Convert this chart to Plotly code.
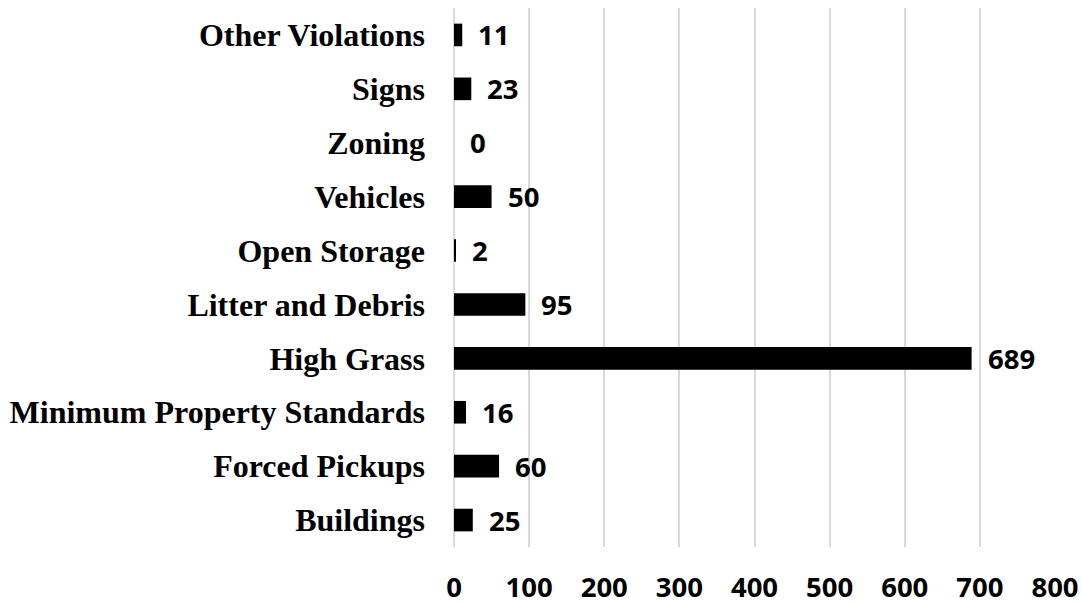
import plotly.graph_objects as go

categories = ["Buildings", "Forced Pickups", "Minimum Property Standards", "High Grass",
              "Litter and Debris", "Open Storage", "Vehicles", "Zoning", "Signs", "Other Violations"]
values = [25, 60, 16, 689, 95, 2, 50, 0, 23, 11]
x_ticks = [0, 100, 200, 300, 400, 500, 600, 700, 800]

fig = go.Figure()
fig.add_trace(go.Bar(
    y=categories, x=values, orientation="h",
    marker=dict(color="black", line=dict(width=0)),
    width=0.42, hoverinfo="x+y",
))

for c, v in zip(categories, values):
    fig.add_annotation(x=v, y=c, text=str(v), showarrow=False, xanchor="left",
                       xshift=14, font=dict(family="Open Sans", size=27.5, color="black",
                                            weight="bold"))

fig.update_layout(
    width=1082, height=603,
    margin=dict(l=454, r=27, t=8, b=56),
    paper_bgcolor="white", plot_bgcolor="white",
    showlegend=False,
    bargap=0.58,
)
fig.update_xaxes(
    range=[0, 800], tickvals=x_ticks, ticktext=[str(t) for t in x_ticks],
    showgrid=True, gridcolor="#d9d9d9", gridwidth=1.5,
    zeroline=True, zerolinecolor="#d9d9d9", zerolinewidth=1.5,
    showline=False, ticks="", ticklabelstandoff=21, automargin=False,
    tickfont=dict(family="Open Sans", size=27.5, color="black", weight="bold"),
)
fig.update_yaxes(
    categoryorder="array", categoryarray=categories, range=[-0.5, 9.5],
    showgrid=False, zeroline=False, showline=False, ticks="", ticklabelstandoff=28,
    automargin=False,
    tickfont=dict(family="Liberation Serif", size=32, color="black", weight="bold"),
)

fig.write_html("out.html", config={"displayModeBar": False},
               post_script="document.body.style.margin='0';document.body.style.overflow='hidden';")
